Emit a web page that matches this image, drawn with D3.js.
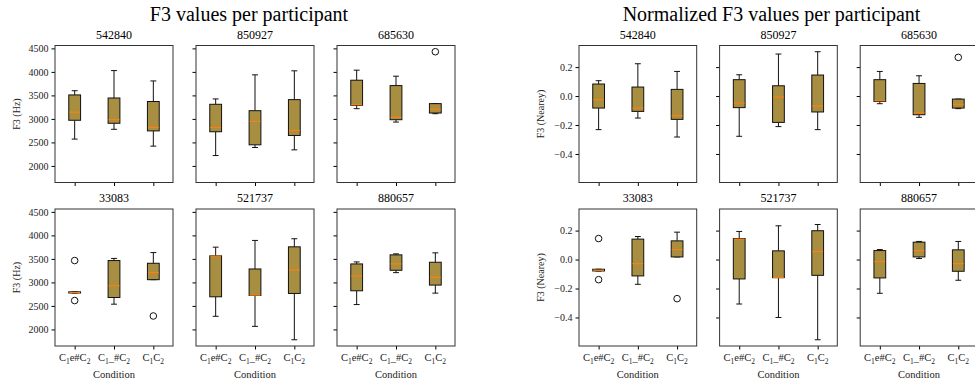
<!DOCTYPE html>
<html>
<head>
<meta charset="utf-8">
<script src="https://cdn.jsdelivr.net/npm/d3@7"></script>
<style>
    body { margin: 0; background: #fff; }
    svg { display: block; }
    svg text { font-family: "Liberation Serif", "DejaVu Serif", serif; }
</style>
</head>
<body>
<svg id="chart" width="975" height="385"></svg>
<script>
const participants = ["542840", "850927", "685630", "33083", "521737", "880657"];
const conditions = ["C1e#C2", "C1_#C2", "C1C2"];

// [low whisker, q1, median, q3, high whisker] for each participant / condition
const rawBoxes = [
    [[2571, 2971, 3143, 3510, 3600], [2779, 2907, 2986, 3445, 4028], [2421, 2745, 2821, 3370, 3808]],
    [[2221, 2727, 2819, 3311, 3425], [2392, 2449, 2948, 3175, 3937], [2342, 2648, 2755, 3410, 4023]],
    [[3218, 3290, 3304, 3823, 4037], [2933, 2983, 3033, 3709, 3909], [3111, 3125, 3204, 3325, 3325]],
    [[2775, 2775, 2786, 2800, 2800], [2537, 2679, 2929, 3465, 3510], [3058, 3058, 3208, 3407, 3635]],
    [[2279, 2694, 3557, 3565, 3750], [2065, 2722, 2729, 3286, 3893], [1780, 2765, 3265, 3757, 3929]],
    [[2529, 2822, 3136, 3393, 3436], [3208, 3258, 3393, 3586, 3607], [2772, 2943, 3107, 3429, 3629]]
];
const rawOutliers = [
    [[], [], []],
    [[], [], []],
    [[], [], [4429]],
    [[3465, 2614], [], [2286]],
    [[], [], []],
    [[], [], []]
];

const normBoxes = [
    [[-0.232, -0.083, -0.025, 0.083, 0.106], [-0.152, -0.106, -0.083, 0.062, 0.223], [-0.283, -0.161, -0.136, 0.046, 0.170]],
    [[-0.278, -0.080, -0.048, 0.113, 0.147], [-0.211, -0.182, -0.007, 0.071, 0.290], [-0.232, -0.110, -0.069, 0.145, 0.306]],
    [[-0.053, -0.037, -0.032, 0.113, 0.170], [-0.147, -0.129, -0.117, 0.087, 0.140], [-0.087, -0.083, -0.057, -0.021, -0.021]],
    [[-0.079, -0.079, -0.074, -0.067, -0.067], [-0.171, -0.113, -0.028, 0.141, 0.159], [0.018, 0.018, 0.069, 0.129, 0.189]],
    [[-0.307, -0.134, 0.141, 0.145, 0.194], [-0.400, -0.125, -0.125, 0.060, 0.233], [-0.554, -0.109, 0.055, 0.199, 0.242]],
    [[-0.233, -0.127, -0.014, 0.062, 0.069], [0.007, 0.018, 0.062, 0.120, 0.125], [-0.143, -0.081, -0.028, 0.067, 0.125]]
];
const normOutliers = [
    [[], [], []],
    [[], [], []],
    [[], [], [0.267]],
    [[0.145, -0.139], [], [-0.270]],
    [[], [], []],
    [[], [], []]
];

const rawTicks = [2000, 2500, 3000, 3500, 4000, 4500];
const normTicks = [-0.4, -0.2, 0.0, 0.2];

const svg = d3.select('#chart');

class boxGrid {
    constructor(boxes, outliers, yTicks, opts) {
        this.boxes = boxes;
        this.outliers = outliers;
        this.yTicks = yTicks;
        this.opts = opts;
        this.rowTops = [45.5, 209];
        this.height = 137;
        this.width = opts.width;
        this.boxColor = '#a88e40';
        this.medianColor = '#ff7f0e';

        // shared y axis, data extent + 5% like matplotlib autoscale
        const all = boxes.flat(2).concat(outliers.flat(2));
        const ext = d3.extent(all);
        const pad = (ext[1] - ext[0]) * 0.05;
        this.scaleY = d3.scaleLinear()
            .domain([ext[0] - pad, ext[1] + pad])
            .range([this.height, 0]);
        this.scaleX = d3.scaleLinear()
            .domain([0.5, 3.5])
            .range([0, this.width]);
        this.boxW = this.scaleX(1.15) - this.scaleX(0.85);

        this.g = svg.append('g');
        this.createTitles();
        participants.forEach((p, i) => this.createPanel(p, i));
    }

    createTitles() {
        this.g.append('text')
            .attr('x', this.opts.titleX)
            .attr('y', 21)
            .attr('text-anchor', 'middle')
            .style('font-size', '20px')
            .text(this.opts.title);

        this.rowTops.forEach(top => {
            this.g.append('text')
                .attr('transform', `translate(${this.opts.yLabelX}, ${top + this.height / 2}) rotate(-90)`)
                .attr('text-anchor', 'middle')
                .attr('fill', '#222')
                .style('font-size', '10px')
                .text(this.opts.yLabel);
        });
    }

    createPanel(name, i) {
        const row = Math.floor(i / 3);
        const col = i % 3;
        const x0 = this.opts.x0 + col * this.opts.step;
        const panel = this.g.append('g')
            .attr('transform', `translate(${x0}, ${this.rowTops[row]})`);

        panel.append('text')
            .attr('x', this.width / 2)
            .attr('y', -7)
            .attr('text-anchor', 'middle')
            .style('font-size', '12px')
            .text(name);

        // y axis
        const axisY = d3.axisLeft(this.scaleY)
            .tickValues(this.yTicks)
            .tickSize(3.5)
            .tickPadding(3)
            .tickFormat(col === 0 ? this.opts.yFormat : '');
        const gy = panel.append('g').call(axisY);
        gy.select('.domain').remove();
        gy.selectAll('text').style('font-size', '10px').attr('fill', '#222');

        // x axis
        const axisX = d3.axisBottom(this.scaleX)
            .tickValues([1, 2, 3])
            .tickSize(3.5)
            .tickFormat('');
        const gx = panel.append('g')
            .attr('transform', `translate(0, ${this.height})`)
            .call(axisX);
        gx.select('.domain').remove();

        if (row === 1) {
            const lab = gx.selectAll('.cond')
                .data(conditions)
                .join('text')
                .attr('class', 'cond')
                .attr('x', (d, j) => this.scaleX(j + 1))
                .attr('y', 15)
                .attr('text-anchor', 'middle')
                .attr('fill', '#222')
                .style('font-size', '10.5px');
            lab.selectAll('tspan')
                .data(d => d.split(/(\d)/).filter(s => s !== ''))
                .join('tspan')
                .attr('dy', (s, k, nodes) => {
                    const isSub = /\d/.test(s);
                    const prevSub = k > 0 && /\d/.test(nodes[k - 1].__data__);
                    return isSub ? 2.5 : (prevSub ? -2.5 : 0);
                })
                .style('font-size', s => /\d/.test(s) ? '7.5px' : null)
                .text(s => s);

            gx.append('text')
                .attr('x', this.width / 2)
                .attr('y', 32)
                .attr('text-anchor', 'middle')
                .attr('fill', '#222')
                .style('font-size', '10.5px')
                .text('Condition');
        }

        const stats = this.boxes[i].map((b, j) => ({
            pos: j + 1, lo: b[0], q1: b[1], med: b[2], q3: b[3], hi: b[4],
            out: this.outliers[i][j]
        }));

        const box = panel.selectAll('.box')
            .data(stats)
            .join('g')
            .attr('class', 'box');

        // whiskers
        box.selectAll('.whisker')
            .data(d => [[d.pos, d.q1, d.lo], [d.pos, d.q3, d.hi]])
            .join('line')
            .attr('class', 'whisker')
            .attr('x1', d => this.scaleX(d[0]))
            .attr('x2', d => this.scaleX(d[0]))
            .attr('y1', d => this.scaleY(d[1]))
            .attr('y2', d => this.scaleY(d[2]))
            .attr('stroke', '#111');

        box.selectAll('.cap')
            .data(d => [[d.pos, d.lo], [d.pos, d.hi]])
            .join('line')
            .attr('class', 'cap')
            .attr('x1', d => this.scaleX(d[0]) - this.boxW / 4)
            .attr('x2', d => this.scaleX(d[0]) + this.boxW / 4)
            .attr('y1', d => this.scaleY(d[1]))
            .attr('y2', d => this.scaleY(d[1]))
            .attr('stroke', '#111');

        box.append('rect')
            .attr('x', d => this.scaleX(d.pos) - this.boxW / 2)
            .attr('y', d => this.scaleY(d.q3))
            .attr('width', this.boxW)
            .attr('height', d => Math.max(1, this.scaleY(d.q1) - this.scaleY(d.q3)))
            .attr('fill', this.boxColor)
            .attr('stroke', '#111');

        box.append('line')
            .attr('x1', d => this.scaleX(d.pos) - this.boxW / 2 + 0.5)
            .attr('x2', d => this.scaleX(d.pos) + this.boxW / 2 - 0.5)
            .attr('y1', d => this.scaleY(d.med))
            .attr('y2', d => this.scaleY(d.med))
            .attr('stroke', this.medianColor)
            .attr('stroke-width', 1.2);

        box.selectAll('circle')
            .data(d => d.out.map(v => [d.pos, v]))
            .join('circle')
            .attr('cx', d => this.scaleX(d[0]))
            .attr('cy', d => this.scaleY(d[1]))
            .attr('r', 3.3)
            .attr('fill', 'none')
            .attr('stroke', '#111');

        // frame
        panel.append('rect')
            .attr('width', this.width)
            .attr('height', this.height)
            .attr('fill', 'none')
            .attr('stroke', '#333');
    }
}

new boxGrid(rawBoxes, rawOutliers, rawTicks, {
    title: 'F3 values per participant',
    titleX: 249,
    yLabel: 'F3 (Hz)',
    yLabelX: 20,
    yFormat: d3.format('d'),
    x0: 55,
    step: 141,
    width: 118
});

new boxGrid(normBoxes, normOutliers, normTicks, {
    title: 'Normalized F3 values per participant',
    titleX: 771.5,
    yLabel: 'F3 (Nearey)',
    yLabelX: 544,
    yFormat: d3.format('.1f'),
    x0: 579,
    step: 140.6,
    width: 117.7
});
</script>
</body>
</html>
